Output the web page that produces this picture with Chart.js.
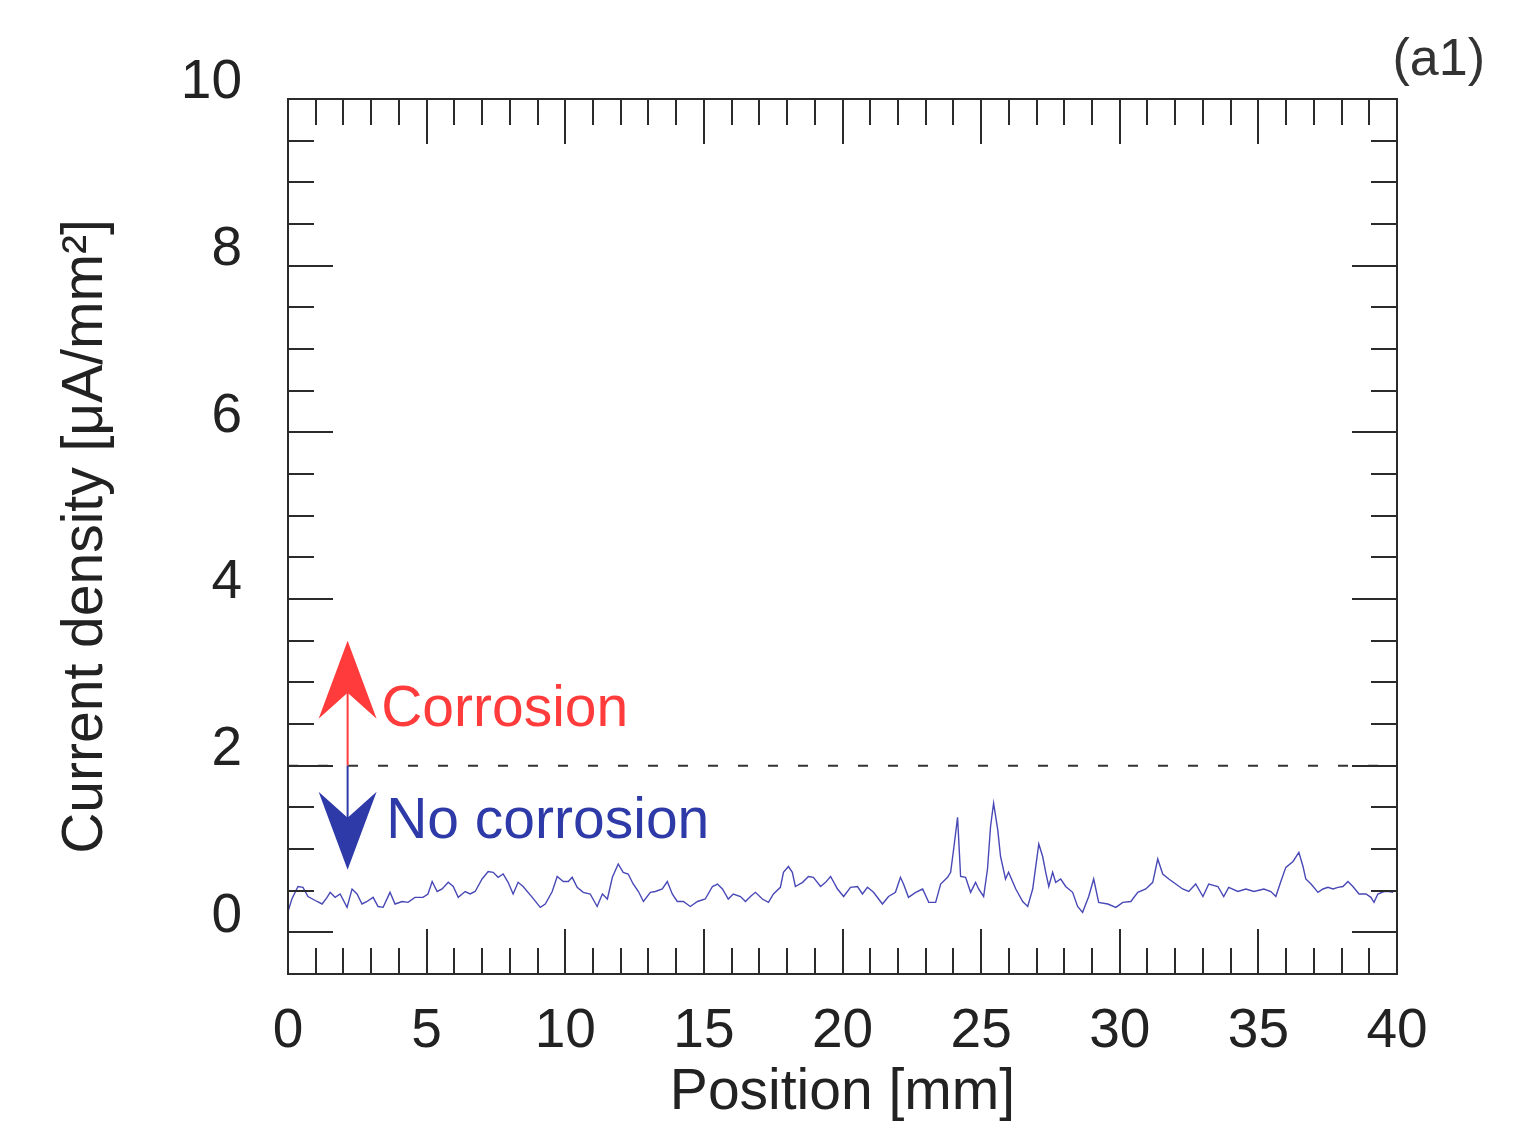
<!DOCTYPE html>
<html><head><meta charset="utf-8">
<script src="https://cdn.jsdelivr.net/npm/chart.js@4"></script>
<style>html,body{margin:0;padding:0;background:#fff}#wrap{width:1528px;height:1122px;position:relative}</style>
</head><body><div id="wrap"><canvas id="c" width="1528" height="1122"></canvas></div>
<script>
// ---- data ----
const positionMm = [0.0,0.14,0.36,0.54,0.72,1.05,1.23,1.41,1.52,1.70,1.88,2.13,2.31,2.49,2.67,2.85,3.07,3.25,3.43,3.68,3.86,4.12,4.33,4.58,4.87,5.05,5.20,5.38,5.56,5.78,5.96,6.14,6.39,
6.57,6.75,7.00,7.22,7.40,7.58,7.76,7.94,8.12,8.30,8.48,8.81,9.10,9.28,9.53,9.71,9.93,10.11,10.25,10.43,10.65,10.90,11.15,11.34,11.52,11.70,11.91,12.09,12.27,12.45,12.64,12.82,13.07,
13.25,13.50,13.68,13.86,14.04,14.26,14.51,14.77,15.05,15.31,15.49,15.67,15.88,16.06,16.32,16.50,16.68,16.86,17.11,17.33,17.51,17.76,17.87,18.05,18.19,18.30,18.56,18.77,18.95,19.21,19.39,19.57,19.82,
20.04,20.29,20.54,20.72,20.90,21.12,21.44,21.66,21.91,22.09,22.20,22.38,22.64,22.89,23.11,23.36,23.54,23.79,23.90,24.01,24.15,24.26,24.44,24.62,24.80,24.91,25.09,25.23,25.34,25.45,25.60,25.70,25.88,25.99,26.25,26.50,26.68,
26.86,27.08,27.22,27.33,27.44,27.58,27.69,27.87,28.05,28.30,28.48,28.66,28.88,29.06,29.24,29.57,29.86,30.11,30.40,30.65,30.94,31.19,31.37,31.55,31.77,32.02,32.27,32.49,32.74,33.00,33.21,
33.54,33.75,33.93,34.26,34.55,34.84,35.20,35.45,35.63,35.81,35.99,36.25,36.46,36.61,36.71,36.90,37.15,37.33,37.51,37.69,37.87,38.05,38.23,38.41,38.63,38.88,39.06,39.17,39.31,39.53,39.71,39.86];
const currentDensity = [0.25,0.40,0.55,0.54,0.43,0.37,0.34,0.42,0.48,0.42,0.46,0.30,0.52,0.46,0.34,0.37,0.42,0.31,0.30,0.48,0.34,0.37,0.36,0.42,0.42,0.46,0.61,0.49,0.52,0.60,0.55,0.42,0.49,
0.46,0.49,0.64,0.73,0.72,0.66,0.70,0.60,0.46,0.60,0.55,0.42,0.30,0.34,0.49,0.67,0.61,0.61,0.66,0.54,0.48,0.46,0.31,0.46,0.40,0.66,0.82,0.72,0.70,0.58,0.49,0.37,0.48,
0.49,0.52,0.61,0.46,0.37,0.37,0.31,0.37,0.40,0.55,0.58,0.52,0.40,0.46,0.43,0.37,0.43,0.48,0.40,0.36,0.46,0.54,0.72,0.79,0.72,0.55,0.60,0.67,0.66,0.55,0.60,0.67,0.52,
0.43,0.54,0.55,0.46,0.54,0.48,0.34,0.43,0.48,0.66,0.58,0.42,0.48,0.52,0.36,0.36,0.58,0.66,0.72,1.00,1.38,0.67,0.66,0.48,0.60,0.52,0.43,0.76,1.27,1.55,1.23,0.91,0.64,0.72,0.52,0.37,0.31,
0.52,1.06,0.91,0.72,0.55,0.72,0.60,0.64,0.55,0.48,0.31,0.24,0.43,0.64,0.36,0.34,0.30,0.36,0.37,0.48,0.52,0.60,0.88,0.70,0.64,0.58,0.52,0.49,0.58,0.43,0.58,
0.55,0.43,0.54,0.49,0.52,0.49,0.52,0.49,0.43,0.61,0.78,0.85,0.96,0.79,0.64,0.58,0.48,0.52,0.54,0.52,0.54,0.55,0.61,0.55,0.46,0.46,0.42,0.36,0.46,0.49,0.49,0.48];
const xLabelValues = [0,5,10,15,20,25,30,35,40];
const yLabelValues = [0,2,4,6,8,10];
const thresholdLine = [2,2];
const thresholdX = [0,40];
const panelLabel = '(a1)';
const upperLabel = 'Corrosion';
const lowerLabel = 'No corrosion';
const xTitle = 'Position [mm]';
const yTitle = 'Current density [\u03BCA/mm\u00B2]';
// annotation anchors (data units)
const arrowX = 2.15, arrowTopVal = 3.5, arrowBottomVal = 0.75;
const upperLabelPos = [3.36, 2.67];
const lowerLabelPos = [3.54, 1.32];

const FONT = "'Liberation Sans', Arial, Helvetica, sans-serif";
Chart.defaults.font.family = FONT;

const frameAndAnnotations = {
  id: 'frameAndAnnotations',
  afterDatasetsDraw(chart) {
    const {ctx, chartArea: a, scales: {x, y}} = chart;
    ctx.save();
    ctx.strokeStyle = '#2b2b2b';
    ctx.lineWidth = 2;
    ctx.strokeRect(a.left, a.top, a.right - a.left, a.bottom - a.top);
    ctx.beginPath();
    x.ticks.forEach(t => {
      const v = t.value;
      if (v <= x.min || v >= x.max) return;
      const px = Math.round(x.getPixelForValue(v));
      const len = (v % 5 === 0) ? 45 : 26;
      ctx.moveTo(px, a.bottom); ctx.lineTo(px, a.bottom - len);
      ctx.moveTo(px, a.top); ctx.lineTo(px, a.top + len);
    });
    y.ticks.forEach(t => {
      const v = t.value;
      if (v <= y.min || v >= y.max) return;
      const py = Math.round(y.getPixelForValue(v));
      const len = (Math.abs(v % 2) < 1e-9) ? 45 : 26;
      ctx.moveTo(a.left, py); ctx.lineTo(a.left + len, py);
      ctx.moveTo(a.right, py); ctx.lineTo(a.right - len, py);
    });
    ctx.stroke();

    // arrows
    const ax = x.getPixelForValue(arrowX);
    const y0 = y.getPixelForValue(thresholdLine[0]);
    const yt = y.getPixelForValue(arrowTopVal);
    const yb = y.getPixelForValue(arrowBottomVal);
    const red = '#ff3b3b', blue = '#2e3aa8';
    ctx.lineWidth = 2;
    ctx.strokeStyle = red;
    ctx.beginPath(); ctx.moveTo(ax, y0); ctx.lineTo(ax, yt + 40); ctx.stroke();
    ctx.strokeStyle = blue;
    ctx.beginPath(); ctx.moveTo(ax, y0); ctx.lineTo(ax, yb - 40); ctx.stroke();
    const head = (tipY, dir, color) => {
      ctx.fillStyle = color;
      ctx.beginPath();
      ctx.moveTo(ax, tipY);
      ctx.lineTo(ax - 29, tipY + dir * 78);
      ctx.lineTo(ax, tipY + dir * 52);
      ctx.lineTo(ax + 29, tipY + dir * 78);
      ctx.closePath();
      ctx.fill();
    };
    head(yt, 1, red);
    head(yb, -1, blue);

    ctx.textBaseline = 'middle';
    ctx.textAlign = 'left';
    ctx.font = '57px ' + FONT;
    ctx.fillStyle = red;
    ctx.fillText(upperLabel, x.getPixelForValue(upperLabelPos[0]), y.getPixelForValue(upperLabelPos[1]));
    ctx.fillStyle = blue;
    ctx.fillText(lowerLabel, x.getPixelForValue(lowerLabelPos[0]), y.getPixelForValue(lowerLabelPos[1]));

    ctx.fillStyle = '#333';
    ctx.font = '52px ' + FONT;
    ctx.textAlign = 'right';
    ctx.fillText(panelLabel, a.right + 88, a.top - 38);
    ctx.restore();
  }
};

new Chart(document.getElementById('c'), {
  type: 'line',
  data: {
    datasets: [
      {
        data: positionMm.map((p, i) => ({x: p, y: currentDensity[i]})),
        borderColor: '#4848b6',
        borderWidth: 1.4,
        pointRadius: 0,
        tension: 0,
        fill: false
      },
      {
        data: thresholdX.map((p, i) => ({x: p, y: thresholdLine[i]})),
        borderColor: '#333',
        borderWidth: 2,
        borderDash: [10, 20],
        pointRadius: 0,
        fill: false
      }
    ]
  },
  options: {
    responsive: false,
    animation: false,
    devicePixelRatio: 1,
    layout: {padding: {left: 58, right: 131, top: 99, bottom: 0}},
    plugins: {legend: {display: false}, tooltip: {enabled: false}},
    scales: {
      x: {
        type: 'linear', min: 0, max: 40,
        grid: {display: false, drawTicks: false},
        border: {display: false},
        ticks: {
          stepSize: 1, autoSkip: false, maxRotation: 0, padding: 25,
          font: {size: 55}, color: '#222',
          callback: v => xLabelValues.includes(v) ? String(v) : ''
        },
        title: {display: true, text: xTitle, font: {size: 57, lineHeight: 1.0}, color: '#222', padding: 0},
        afterFit: s => { s.height = 148; }
      },
      y: {
        type: 'linear', min: -0.5, max: 10,
        grid: {display: false, drawTicks: false},
        border: {display: false},
        ticks: {
          stepSize: 0.5, autoSkip: false, padding: 46, labelOffset: -16,
          font: {size: 55}, color: '#222',
          callback: v => yLabelValues.includes(v) ? String(v) : ''
        },
        title: {display: true, text: yTitle, font: {size: 57, lineHeight: 1.0}, color: '#222', padding: 0},
        afterFit: s => { s.width = 230; }
      }
    }
  },
  plugins: [frameAndAnnotations]
});
</script></body></html>
